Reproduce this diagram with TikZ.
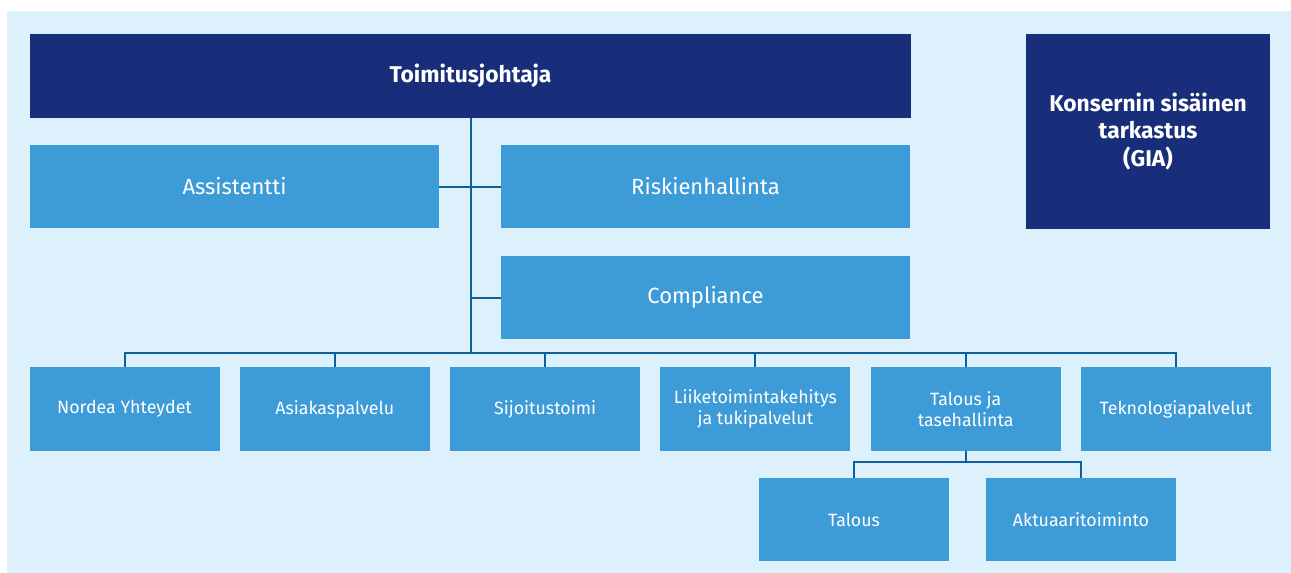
\documentclass[tikz,border=0pt]{standalone}
\usepackage{fontspec}
\setmainfont{Fira Sans}
\definecolor{darkb}{RGB}{25,46,122}
\definecolor{midb}{RGB}{61,155,216}
\definecolor{bgb}{RGB}{220,241,252}
\definecolor{lineb}{RGB}{12,96,156}
\tikzset{
  box/.style={fill=midb, text=white, inner sep=0pt, align=center, font=\fontsize{22}{26}\selectfont},
  topbox/.style={fill=darkb, text=white, inner sep=0pt, align=center, font=\fontsize{22.8}{27.5}\selectfont\bfseries},
  smallbox/.style={box, minimum width=190pt, minimum height=84pt, font=\fontsize{17.8}{20.5}\selectfont},
  conn/.style={draw=lineb, line width=2pt}
}
\begin{document}
\begin{tikzpicture}[x=1pt,y=-1pt]
\useasboundingbox (0,0) rectangle (1291,573);
\fill[bgb] (7,11) rectangle (1291,573);
% top level
\node[topbox, minimum width=881pt, minimum height=84pt] (ceo) at (470.5,76) {Toimitusjohtaja};
\node[topbox, minimum width=244pt, minimum height=195pt] (gia) at (1148,131.5) {Konsernin sisäinen\\tarkastus\\(GIA)};
\node[box, minimum width=409pt, minimum height=83pt] (assist) at (234.5,186.5) {Assistentti};
\node[box, minimum width=409pt, minimum height=83pt] (risk) at (705.5,186.5) {Riskienhallinta};
\node[box, minimum width=409pt, minimum height=83pt] (comp) at (705.5,297.5) {Compliance};
% bottom row
\node[smallbox] (b1) at (124.5,409) {Nordea Yhteydet};
\node[smallbox] (b2) at (334.8,409) {Asiakaspalvelu};
\node[smallbox] (b3) at (545.1,409) {Sijoitustoimi};
\node[smallbox] (b4) at (755.4,409) {Liiketoimintakehitys\\ja tukipalvelut};
\node[smallbox] (b5) at (965.7,409) {Talous ja\\tasehallinta};
\node[smallbox] (b6) at (1176,409) {Teknologiapalvelut};
\node[smallbox, minimum height=83pt] (c1) at (854,519.5) {Talous};
\node[smallbox, minimum height=83pt] (c2) at (1081,519.5) {Aktuaaritoiminto};
% connectors
\coordinate (bus) at (470,353);
\coordinate (sub) at (965.7,462);
\draw[conn] (ceo.south) -- (ceo.south |- bus);
\draw[conn] (assist.east) -- (risk.west);
\draw[conn] (comp.west) -- (comp.west -| ceo.south);
\draw[conn] (b1.north) -- (b1.north |- bus) -- (b6.north |- bus) -- (b6.north);
\foreach \i in {2,...,5} \draw[conn] (b\i.north) -- (b\i.north |- bus);
\draw[conn] (b5.south) -- (sub);
\draw[conn] (c1.north) -- (c1.north |- sub) -- (c2.north |- sub) -- (c2.north);
\end{tikzpicture}
\end{document}
